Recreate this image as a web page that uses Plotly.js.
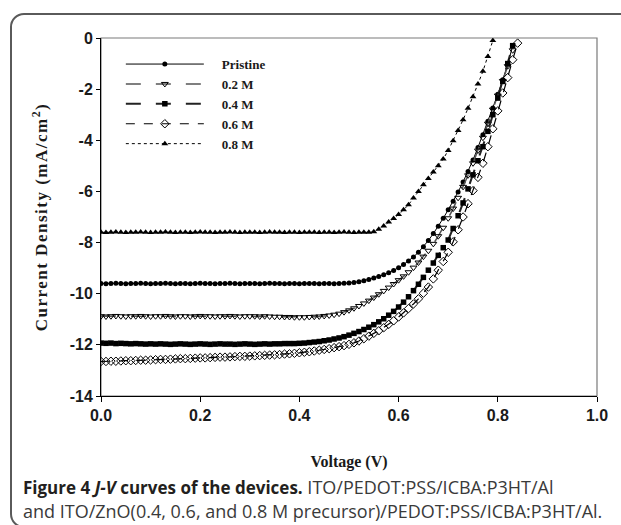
<!DOCTYPE html>
<html>
<head>
<meta charset="utf-8">
<script src="https://cdn.plot.ly/plotly-3.0.1.min.js"></script>
<style>
  html, body { margin: 0; padding: 0; background: #fff; }
  #wrap { position: relative; width: 621px; height: 525px; overflow: hidden; }
  #chart { position: absolute; left: 0; top: 0; width: 621px; height: 525px; }
  #frame { position: absolute; left: 10px; top: 13px; width: 700px; height: 515px;
           box-sizing: border-box; border: 2px solid #5a5a5a; border-radius: 14px;
           pointer-events: none; }
  .g-ytitle text { letter-spacing: 1.5px; }
</style>
</head>
<body>
<div id="wrap">
  <div id="chart"></div>
  <div id="frame"></div>
</div>
<script>
// ---- data (voltage in V, current density in mA/cm^2) ----
var voltage83 = [0.00,0.01,0.02,0.03,0.04,0.05,0.06,0.07,0.08,0.09,
  0.10,0.11,0.12,0.13,0.14,0.15,0.16,0.17,0.18,0.19,
  0.20,0.21,0.22,0.23,0.24,0.25,0.26,0.27,0.28,0.29,
  0.30,0.31,0.32,0.33,0.34,0.35,0.36,0.37,0.38,0.39,
  0.40,0.41,0.42,0.43,0.44,0.45,0.46,0.47,0.48,0.49,
  0.50,0.51,0.52,0.53,0.54,0.55,0.56,0.57,0.58,0.59,
  0.60,0.61,0.62,0.63,0.64,0.65,0.66,0.67,0.68,0.69,
  0.70,0.71,0.72,0.73,0.74,0.75,0.76,0.77,0.78,0.79,
  0.80,0.81,0.82,0.83];
var voltage84 = [0.00,0.01,0.02,0.03,0.04,0.05,0.06,0.07,0.08,0.09,
  0.10,0.11,0.12,0.13,0.14,0.15,0.16,0.17,0.18,0.19,
  0.20,0.21,0.22,0.23,0.24,0.25,0.26,0.27,0.28,0.29,
  0.30,0.31,0.32,0.33,0.34,0.35,0.36,0.37,0.38,0.39,
  0.40,0.41,0.42,0.43,0.44,0.45,0.46,0.47,0.48,0.49,
  0.50,0.51,0.52,0.53,0.54,0.55,0.56,0.57,0.58,0.59,
  0.60,0.61,0.62,0.63,0.64,0.65,0.66,0.67,0.68,0.69,
  0.70,0.71,0.72,0.73,0.74,0.75,0.76,0.77,0.78,0.79,
  0.80,0.81,0.82,0.83,0.84];
var voltage79 = [0.00,0.01,0.02,0.03,0.04,0.05,0.06,0.07,0.08,0.09,
  0.10,0.11,0.12,0.13,0.14,0.15,0.16,0.17,0.18,0.19,
  0.20,0.21,0.22,0.23,0.24,0.25,0.26,0.27,0.28,0.29,
  0.30,0.31,0.32,0.33,0.34,0.35,0.36,0.37,0.38,0.39,
  0.40,0.41,0.42,0.43,0.44,0.45,0.46,0.47,0.48,0.49,
  0.50,0.51,0.52,0.53,0.54,0.55,0.56,0.57,0.58,0.59,
  0.60,0.61,0.62,0.63,0.64,0.65,0.66,0.67,0.68,0.69,
  0.70,0.71,0.72,0.73,0.74,0.75,0.76,0.77,0.78,0.79];

var jPristine = [-9.60,-9.61,-9.60,-9.59,-9.60,-9.61,-9.60,-9.60,-9.59,-9.60,
  -9.61,-9.60,-9.60,-9.59,-9.60,-9.61,-9.60,-9.60,-9.61,-9.60,
  -9.59,-9.60,-9.60,-9.61,-9.60,-9.60,-9.59,-9.60,-9.61,-9.60,
  -9.60,-9.60,-9.61,-9.60,-9.59,-9.60,-9.60,-9.61,-9.60,-9.60,
  -9.61,-9.60,-9.60,-9.60,-9.61,-9.60,-9.60,-9.61,-9.60,-9.59,
  -9.58,-9.56,-9.53,-9.49,-9.44,-9.39,-9.33,-9.26,-9.18,-9.09,
  -8.98,-8.86,-8.72,-8.56,-8.38,-8.16,-7.92,-7.65,-7.36,-7.05,
  -6.72,-6.38,-6.02,-5.63,-5.22,-4.77,-4.28,-3.78,-3.26,-2.74,
  -2.20,-1.63,-1.03,-0.30];
var j02M = [-10.88,-10.89,-10.88,-10.87,-10.88,-10.89,-10.88,-10.88,-10.87,-10.88,
  -10.89,-10.88,-10.88,-10.87,-10.88,-10.89,-10.88,-10.88,-10.89,-10.88,
  -10.87,-10.88,-10.88,-10.89,-10.88,-10.88,-10.87,-10.88,-10.89,-10.88,
  -10.88,-10.88,-10.89,-10.88,-10.89,-10.90,-10.90,-10.91,-10.91,-10.92,
  -10.92,-10.92,-10.91,-10.90,-10.89,-10.87,-10.85,-10.82,-10.78,-10.72,
  -10.65,-10.57,-10.48,-10.38,-10.27,-10.15,-10.02,-9.89,-9.76,-9.62,
  -9.47,-9.32,-9.16,-8.98,-8.78,-8.55,-8.32,-8.05,-7.75,-7.42,
  -7.05,-6.67,-6.25,-5.82,-5.37,-4.90,-4.40,-3.90,-3.35,-2.80,
  -2.25,-1.68,-1.10,-0.48];
var j04M = [-11.93,-11.94,-11.93,-11.95,-11.94,-11.95,-11.96,-11.95,-11.96,-11.97,
  -11.96,-11.97,-11.96,-11.97,-11.98,-11.97,-11.96,-11.97,-11.98,-11.97,
  -11.96,-11.97,-11.98,-11.97,-11.96,-11.97,-11.97,-11.98,-11.97,-11.96,
  -11.97,-11.98,-11.97,-11.96,-11.97,-11.96,-11.96,-11.95,-11.95,-11.95,
  -11.94,-11.93,-11.91,-11.89,-11.87,-11.84,-11.81,-11.77,-11.73,-11.68,
  -11.62,-11.55,-11.48,-11.40,-11.31,-11.21,-11.10,-10.98,-10.84,-10.69,
  -10.52,-10.33,-10.12,-9.88,-9.63,-9.36,-9.08,-8.80,-8.50,-8.20,
  -7.90,-7.45,-6.95,-6.45,-5.90,-5.35,-4.80,-4.25,-3.65,-3.00,
  -2.35,-1.70,-1.00,-0.30];
var j06M = [-12.65,-12.65,-12.64,-12.64,-12.63,-12.62,-12.62,-12.61,-12.60,-12.60,
  -12.59,-12.58,-12.57,-12.57,-12.56,-12.55,-12.54,-12.54,-12.53,-12.52,
  -12.51,-12.51,-12.50,-12.49,-12.48,-12.48,-12.47,-12.46,-12.45,-12.45,
  -12.44,-12.43,-12.42,-12.41,-12.40,-12.39,-12.38,-12.36,-12.35,-12.33,
  -12.31,-12.29,-12.27,-12.24,-12.21,-12.18,-12.15,-12.11,-12.07,-12.03,
  -11.98,-11.92,-11.85,-11.76,-11.66,-11.55,-11.45,-11.33,-11.20,-11.06,
  -10.91,-10.75,-10.58,-10.40,-10.20,-9.98,-9.74,-9.42,-9.08,-8.74,
  -8.38,-7.97,-7.50,-7.00,-6.48,-5.97,-5.45,-4.90,-4.25,-3.55,
  -2.85,-2.15,-1.55,-0.85,-0.20];
var j08M = [-7.60,-7.61,-7.60,-7.59,-7.60,-7.61,-7.60,-7.60,-7.59,-7.60,
  -7.61,-7.60,-7.60,-7.59,-7.60,-7.61,-7.60,-7.60,-7.61,-7.60,
  -7.59,-7.60,-7.60,-7.61,-7.60,-7.60,-7.59,-7.60,-7.61,-7.60,
  -7.60,-7.60,-7.61,-7.60,-7.59,-7.60,-7.60,-7.61,-7.60,-7.60,
  -7.61,-7.60,-7.60,-7.60,-7.61,-7.60,-7.60,-7.61,-7.60,-7.59,
  -7.60,-7.61,-7.60,-7.60,-7.60,-7.58,-7.48,-7.35,-7.20,-7.06,
  -6.90,-6.72,-6.52,-6.26,-6.00,-5.74,-5.49,-5.24,-5.00,-4.73,
  -4.40,-4.02,-3.62,-3.20,-2.75,-2.30,-1.80,-1.30,-0.72,-0.10];

var seriesNames = ['Pristine', '0.2 M', '0.4 M', '0.6 M', '0.8 M'];
var xTickVals = [0, 0.2, 0.4, 0.6, 0.8, 1.0];
var xTickText = ['0.0', '0.2', '0.4', '0.6', '0.8', '1.0'];
var yTickVals = [-14, -12, -10, -8, -6, -4, -2, 0];
var yTickText = ['-14', '-12', '-10', '-8', '-6', '-4', '-2', '0'];

var pad = '\u00a0\u00a0\u00a0\u00a0';

// ---- traces ----
var traces = [
  { x: voltage83, y: jPristine, name: pad + seriesNames[0], mode: 'lines+markers',
    line: { color: '#000', width: 1, dash: 'solid' },
    marker: { symbol: 'circle', size: 5, color: '#000' } },
  { x: voltage83, y: j02M, name: pad + seriesNames[1], mode: 'lines+markers',
    line: { color: '#555', width: 1.5, dash: 'longdash' },
    marker: { symbol: 'triangle-down-open', size: 6, color: '#000', line: { width: 1 } } },
  { x: voltage83, y: j04M, name: pad + seriesNames[2], mode: 'lines+markers',
    line: { color: '#222', width: 2, dash: 'longdash' },
    marker: { symbol: 'square', size: 5.5, color: '#000' } },
  { x: voltage84, y: j06M, name: pad + seriesNames[3], mode: 'lines+markers',
    line: { color: '#000', width: 1.2, dash: 'dash' },
    marker: { symbol: 'diamond-open', size: 6.5, color: '#000', line: { width: 1 } } },
  { x: voltage79, y: j08M, name: pad + seriesNames[4], mode: 'lines+markers',
    line: { color: '#000', width: 1, dash: 'dot' },
    marker: { symbol: 'triangle-up', size: 6, color: '#000' } }
];

var axisFont = { family: 'Liberation Sans, Arial, sans-serif', size: 16, color: '#1a1a1a', weight: 'bold' };
var xTitleFont = { family: 'Liberation Serif, Times New Roman, serif', size: 16, color: '#1a1a1a', weight: 'bold' };
var yTitleFont = { family: 'Liberation Serif, Times New Roman, serif', size: 17, color: '#1a1a1a', weight: 'bold' };

var layout = {
  width: 621, height: 525,
  margin: { l: 101, r: 24, t: 38, b: 129 },
  paper_bgcolor: '#fff', plot_bgcolor: '#fff',
  showlegend: true,
  legend: {
    x: 0.040, y: 0.969, xanchor: 'left', yanchor: 'top',
    bgcolor: 'rgba(0,0,0,0)', borderwidth: 0,
    itemwidth: 78, tracegroupgap: 0,
    font: { family: 'Liberation Serif, Times New Roman, serif', size: 13, color: '#1a1a1a', weight: 'bold' }
  },
  xaxis: {
    range: [0, 1], tickvals: xTickVals, ticktext: xTickText,
    ticks: 'outside', ticklen: 5, tickwidth: 1, tickcolor: '#000',
    showline: true, linecolor: '#000', linewidth: 1,
    showgrid: false, zeroline: false, fixedrange: true,
    tickfont: axisFont,
    title: { text: 'Voltage (V)', font: xTitleFont, standoff: 32 }
  },
  yaxis: {
    range: [-14, 0], tickvals: yTickVals, ticktext: yTickText,
    ticks: 'outside', ticklen: 4, tickwidth: 1, tickcolor: '#000',
    showline: true, linecolor: '#000', linewidth: 1,
    showgrid: false, zeroline: false, fixedrange: true,
    tickfont: axisFont,
    title: { text: 'Current Density (mA/cm<sup>2</sup>)', font: yTitleFont, standoff: 17 }
  },
  shapes: [
    { type: 'rect', xref: 'paper', yref: 'paper', x0: 0, x1: 1, y0: 0, y1: 1,
      line: { color: '#7a7a7a', width: 1.2 }, layer: 'below' }
  ],
  annotations: [
    { xref: 'paper', yref: 'paper', x: -0.161, y: -0.254, xanchor: 'left', yanchor: 'middle',
      showarrow: false, align: 'left',
      font: { family: 'Open Sans, Noto Sans, sans-serif', size: 18, color: '#3a3a3a' },
      text: '<span style="font-size:17px;color:#231f20"><b>Figure 4 <i>J-V</i> curves of the devices.</b></span> ITO/PEDOT:PSS/ICBA:P3HT/Al' },
    { xref: 'paper', yref: 'paper', x: -0.161, y: -0.321, xanchor: 'left', yanchor: 'middle',
      showarrow: false, align: 'left',
      font: { family: 'Open Sans, Noto Sans, sans-serif', size: 18, color: '#3a3a3a' },
      text: 'and ITO/ZnO(0.4, 0.6, and 0.8 M precursor)/PEDOT:PSS/ICBA:P3HT/Al.' }
  ]
};

Plotly.newPlot('chart', traces, layout, { displayModeBar: false, staticPlot: true });
</script>
</body>
</html>
